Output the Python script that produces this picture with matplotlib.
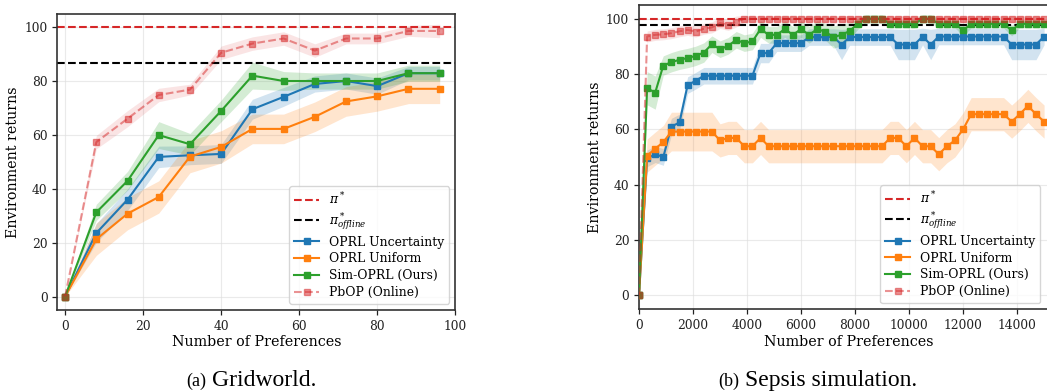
import matplotlib
matplotlib.use("Agg")
import matplotlib.pyplot as plt
import numpy as np

plt.rcParams['font.family'] = 'DejaVu Serif'
plt.rcParams['mathtext.fontset'] = 'dejavuserif'

# ---------------- Gridworld data ----------------
grid_x = [0, 8, 16, 24, 32, 40, 48, 56, 64, 72, 80, 88, 96]
grid_uncert = [0, 23.6, 36.0, 51.9, 52.5, 53.0, 69.6, 74.2, 79.0, 80.1, 78.2, 83.0, 83.0]
grid_uncert_std = [0, 3.5, 4, 4, 3.5, 3.5, 3.7, 3.5, 3, 3, 3, 2.5, 2.5]
grid_uniform = [0, 21.3, 30.8, 37.0, 52.0, 55.6, 62.3, 62.3, 66.8, 72.5, 74.4, 77.2, 77.2]
grid_uniform_std = [0, 6, 6, 6, 6, 6, 5.5, 5.5, 5.5, 5.5, 5.5, 5.5, 5.5]
grid_sim = [0, 31.3, 43.0, 60.0, 56.6, 69.0, 82.1, 80.1, 80.1, 80.1, 80.1, 83.0, 83.0]
grid_sim_std = [0, 3, 3.5, 5, 4, 4, 5, 3.5, 3, 3, 3, 3, 3]
grid_pbop = [0, 57.4, 66.1, 74.9, 76.9, 90.6, 94.0, 95.9, 91.4, 95.9, 95.9, 98.7, 98.7]
grid_pbop_std = [0, 2.5, 3, 2.5, 2, 2.5, 2.5, 2.5, 2.5, 2, 2, 2, 2.5]
grid_opt = 100
grid_offline = 86.8

# ---------------- Sepsis data ----------------
sep_x = [0, 300, 600, 900, 1200, 1500, 1800, 2100, 2400, 2700,
         3000, 3300, 3600, 3900, 4200, 4500, 4800, 5100, 5400, 5700,
         6000, 6300, 6600, 6900, 7200, 7500, 7800, 8100, 8400, 8700,
         9000, 9300, 9600, 9900, 10200, 10500, 10800, 11100, 11400, 11700,
         12000, 12300, 12600, 12900, 13200, 13500, 13800, 14100, 14400, 14700,
         15000]
sep_uncert = [0, 49.5, 51, 50, 61, 62.5, 76, 77.6, 79.4, 79.4,
              79.4, 79.4, 79.4, 79.4, 79.4, 87.6, 87.6, 91.2, 91.2, 91.2,
              91.2, 93.4, 93.4, 93.4, 93.4, 90.7, 93.4, 93.4, 93.4, 93.4,
              93.4, 93.4, 90.7, 90.7, 90.7, 93.6, 90.7, 93.6, 93.6, 93.6,
              93.6, 93.6, 93.6, 93.6, 93.6, 93.6, 90.7, 90.7, 90.7, 90.7,
              93.6]
sep_uncert_std = [0, 3, 3, 3, 3, 3, 3, 3, 3, 3,
                  3, 3, 3, 3, 3, 3.5, 3.5, 3, 3, 3,
                  3, 3, 3, 3, 3, 5.5, 3, 3, 3, 3,
                  3, 3, 5.5, 5.5, 5.5, 3, 5.5, 3, 3, 3,
                  3, 3, 3, 3, 3, 3, 5.5, 5.5, 5.5, 5.5,
                  3]
sep_uniform = [0, 50.5, 53.0, 55.4, 59.2, 59.2, 59.2, 59.2, 59.2, 59.2,
               56.0, 56.9, 56.9, 53.9, 53.9, 56.9, 53.9, 53.9, 53.9, 53.9,
               53.9, 53.9, 53.9, 53.9, 53.9, 53.9, 53.9, 53.9, 53.9, 53.9,
               53.9, 56.9, 56.9, 53.9, 56.9, 53.9, 53.9, 51.0, 53.9, 56.0,
               60.0, 65.5, 65.5, 65.5, 65.5, 65.5, 62.8, 65.5, 68.5, 65.5,
               62.8]
sep_uniform_std = [0, 6, 6, 6, 7, 7, 7, 7, 7, 7,
                   6, 6, 6, 6, 6, 6, 6, 6, 6, 6,
                   6, 6, 6, 6, 6, 6, 6, 6, 6, 6,
                   6, 6, 6, 6, 6, 6, 6, 6, 6, 6,
                   6, 6, 6, 6, 6, 6, 6, 6, 6, 6,
                   6]
sep_sim = [0, 74.9, 73.3, 83.1, 84.3, 85.2, 85.8, 86.6, 87.8, 90.8,
           89.0, 90.2, 92.4, 91.2, 91.8, 96.3, 94.2, 94.2, 96.3, 94.2,
           96.3, 94.2, 96.3, 95.3, 93.4, 94.2, 95.6, 98.2, 100, 100,
           100, 98.2, 98.2, 98.2, 98.2, 100, 100, 98.2, 98.2, 98.2,
           95.8, 98.2, 98.2, 98.2, 98.2, 98.2, 95.8, 98.2, 98.2, 98.2,
           98.2]
sep_sim_std = [0, 6, 6, 3.5, 3.5, 3.5, 3.5, 3.5, 3.5, 3,
               3, 3, 3, 3, 3, 3, 3, 3, 3, 3,
               3, 3, 3, 3, 4, 4, 3, 2, 1.5, 1.5,
               1.5, 1.5, 1.5, 1.5, 1.5, 1.5, 1.5, 1.5, 1.5, 1.5,
               2, 1.5, 1.5, 1.5, 1.5, 1.5, 2, 1.5, 1.5, 1.5,
               1.5]
sep_pbop = [0, 93.6, 94.2, 94.4, 94.8, 95.5, 96.0, 95.4, 96.4, 96.9,
            98.5, 97.8, 99.0, 100, 100, 100, 100, 100, 100, 100,
            100, 100, 100, 100, 100, 100, 100, 100, 100, 100,
            100, 100, 100, 100, 100, 100, 100, 100, 100, 100,
            100, 100, 100, 100, 100, 100, 100, 100, 100, 100,
            100]
sep_pbop_std = [0, 2, 2, 2, 2, 2, 2, 2, 2, 2,
                2, 2, 2, 1.2, 1.2, 1.2, 1.2, 1.2, 1.2, 1.2,
                1.2, 1.2, 1.2, 1.2, 1.2, 1.2, 1.2, 1.2, 1.2, 1.2,
                1.2, 1.2, 1.2, 1.2, 1.2, 1.2, 1.2, 1.2, 1.2, 1.2,
                1.2, 1.2, 1.2, 1.2, 1.2, 1.2, 1.2, 1.2, 1.2, 1.2,
                1.2]
sep_opt = 100
sep_offline = 97.6

labels = ["OPRL Uncertainty", "OPRL Uniform", "Sim-OPRL (Ours)", "PbOP (Online)"]
colors = ["#1f77b4", "#ff7f0e", "#2ca02c", "#d62728"]

W, H = 1047, 392
fig = plt.figure(figsize=(W / 100, H / 100), dpi=100)

def px_axes(l, t, r, b):
    return fig.add_axes([l / W, 1 - b / H, (r - l) / W, (b - t) / H])

ax1 = px_axes(57.3, 14, 455.3, 310)
ax2 = px_axes(639, 5, 1057.6, 309)

TICK = 8.8
LAB = 10.3
LEG = 8.9

def draw(ax, x, series, stds, opt, off):
    ax.axhline(opt, color="#d62728", ls="--", lw=1.5, label=r"$\pi^*$", zorder=2)
    ax.axhline(off, color="black", ls="--", lw=1.5, label=r"$\pi^*_{offline}$", zorder=2)
    x = np.array(x, dtype=float)
    for k, (y, s) in enumerate(zip(series, stds)):
        y = np.array(y, dtype=float)
        s = np.array(s, dtype=float)
        c = colors[k]
        if k < 3:
            ax.fill_between(x, y - s, y + s, color=c, alpha=0.2, lw=0, zorder=1)
            ax.plot(x, y, color=c, marker="s", ms=4.5, lw=1.5, label=labels[k], zorder=3)
        else:
            ax.fill_between(x, y - s, y + s, color=c, alpha=0.12, lw=0, zorder=1)
            ax.plot(x, y, color=c, marker="s", ms=4.5, lw=1.5, ls="--", alpha=0.5,
                    label=labels[k], zorder=4)
    ax.grid(True, color="#dddddd", lw=0.8, alpha=0.6)
    ax.set_axisbelow(True)
    for sp in ax.spines.values():
        sp.set_color("#333333")
        sp.set_linewidth(1.2)
    ax.tick_params(labelsize=TICK, colors="#222222", length=3.5, width=0.9)
    ax.set_xlabel("Number of Preferences", fontsize=LAB, labelpad=2)
    ax.set_ylabel("Environment returns", fontsize=LAB, labelpad=3)
    ax.set_ylim(-5, 105)
    ax.set_yticks([0, 20, 40, 60, 80, 100])

draw(ax1, grid_x, [grid_uncert, grid_uniform, grid_sim, grid_pbop],
     [grid_uncert_std, grid_uniform_std, grid_sim_std, grid_pbop_std], grid_opt, grid_offline)
ax1.set_xlim(-2, 100)
ax1.set_xticks([0, 20, 40, 60, 80, 100])
ax1.legend(loc="lower right", fontsize=LEG, framealpha=0.8, edgecolor="#cccccc",
           labelspacing=0.3)

draw(ax2, sep_x, [sep_uncert, sep_uniform, sep_sim, sep_pbop],
     [sep_uncert_std, sep_uniform_std, sep_sim_std, sep_pbop_std], sep_opt, sep_offline)
ax2.set_xlim(0, 15500)
ax2.set_xticks([0, 2000, 4000, 6000, 8000, 10000, 12000, 14000])
ax2.legend(loc="lower right", fontsize=LEG, framealpha=0.8, edgecolor="#cccccc",
           labelspacing=0.3,
           bbox_to_anchor=(1040 / W, 1 - 303 / H), bbox_transform=fig.transFigure,
           borderaxespad=0)

cap_font = "Liberation Serif"
CAP = 17
CAPS = 13
fig.text(206 / W, 1 - 386 / H, "(a)", fontsize=CAPS, family=cap_font, ha="right", va="baseline")
fig.text(212 / W, 1 - 386 / H, "Gridworld.", fontsize=CAP, family=cap_font, ha="left", va="baseline")
fig.text(739 / W, 1 - 386 / H, "(b)", fontsize=CAPS, family=cap_font, ha="right", va="baseline")
fig.text(745 / W, 1 - 386 / H, "Sepsis simulation.", fontsize=CAP, family=cap_font, ha="left", va="baseline")

fig.savefig("out.png", dpi=100)
